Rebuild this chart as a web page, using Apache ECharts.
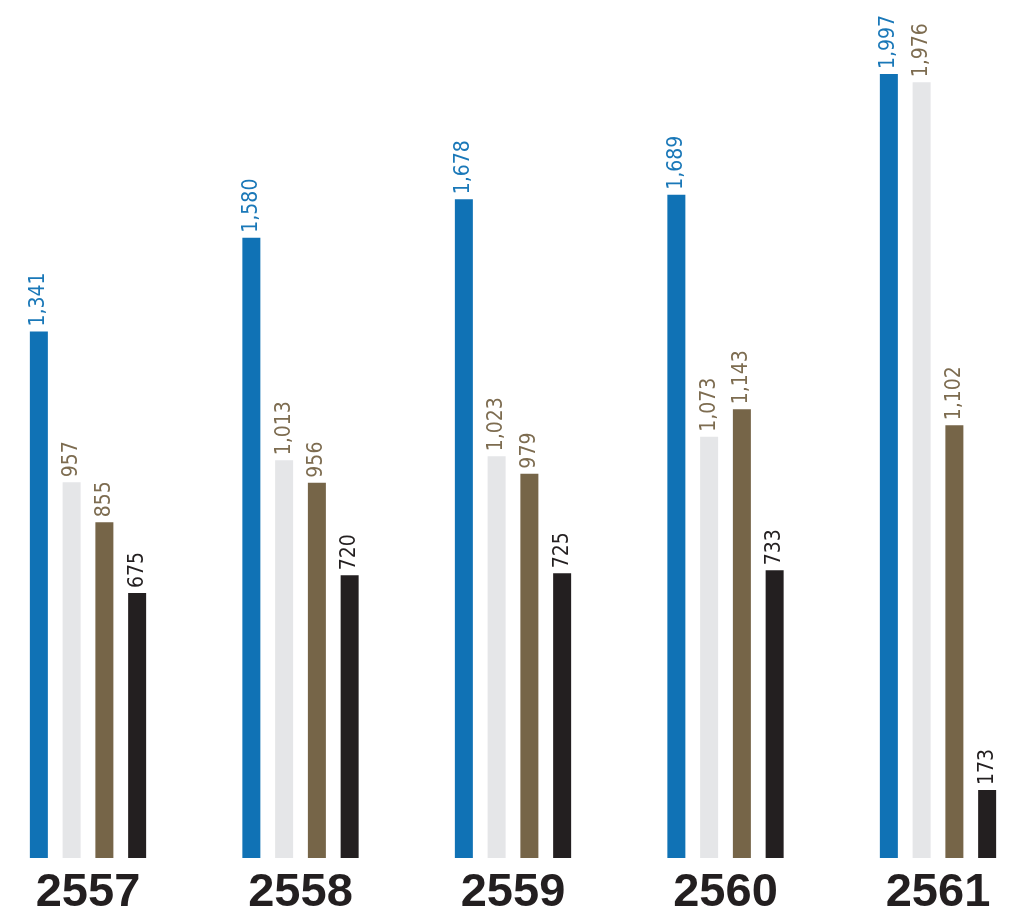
<!DOCTYPE html>
<html><head><meta charset="utf-8">
<script src="https://cdn.jsdelivr.net/npm/echarts@6/dist/echarts.min.js"></script>
<style>html,body{margin:0;padding:0;background:#fff}#c{width:1013px;height:917px}</style>
</head><body><div id="c"></div>
<script>
const years = ['2557', '2558', '2559', '2560', '2561'];
const seriesA = [1341, 1580, 1678, 1689, 1997];
const seriesB = [957, 1013, 1023, 1073, 1976];
const seriesC = [855, 956, 979, 1143, 1102];
const seriesD = [675, 720, 725, 733, 173];

const barColors = ['#1072b5', '#e5e6e8', '#766548', '#231f20'];
const labelColors = ['#1a78b8', '#7d6c50', '#7d6c50', '#231f20'];
const labelFont = '"Liberation Sans Narrow", "DejaVu Sans Condensed", sans-serif';

function mk(data, i) {
  return {
    type: 'bar', data: data, barWidth: 18, barGap: '82%',
    itemStyle: { color: barColors[i] },
    label: {
      show: true, position: 'top', rotate: 90, align: 'left', verticalAlign: 'middle',
      distance: 5, color: labelColors[i], fontFamily: labelFont, fontSize: 21,
      formatter: p => p.value.toLocaleString('en-US')
    }
  };
}
const chart = echarts.init(document.getElementById('c'));
chart.setOption({
  animation: false,
  grid: { left: 88, right: 75, top: 33.5, bottom: 59, containLabel: false },
  xAxis: {
    type: 'category', data: years, boundaryGap: false,
    axisLine: { show: false }, axisTick: { show: false },
    axisLabel: { color: '#231f20', fontFamily: '"Liberation Sans", Arial, sans-serif', fontWeight: 'bold', fontSize: 47, margin: 12 }
  },
  yAxis: { type: 'value', min: 0, max: 2100, show: false, splitLine: { show: false } },
  series: [mk(seriesA, 0), mk(seriesB, 1), mk(seriesC, 2), mk(seriesD, 3)]
});
</script></body></html>
